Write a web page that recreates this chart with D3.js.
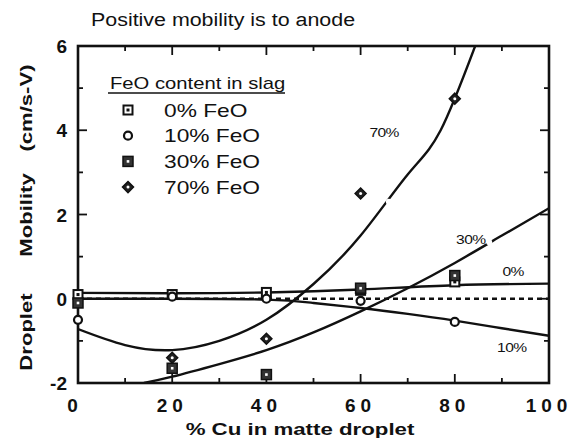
<!DOCTYPE html>
<html>
<head>
<meta charset="utf-8">
<script src="https://cdn.jsdelivr.net/npm/d3@7"></script>
<style>
  body { margin: 0; background: #fff; }
  text { font-family: "Liberation Sans", Arial, sans-serif; fill: #111; }
</style>
</head>
<body>
<script>
// measured points per FeO content
const x0 = [0, 20, 40, 60, 80];
const feo0 = [0.1, 0.1, 0.15, 0.2, 0.4];
const feo10 = [-0.5, 0.05, 0.0, -0.05, -0.55];
const x30 = [0, 20, 40, 60, 80];
const feo30 = [-0.1, -1.65, -1.8, 0.25, 0.55];
const x70 = [20, 40, 60, 80];
const feo70 = [-1.4, -0.95, 2.5, 4.75];

// fitted curves
const curve0 = [[0, 0.14], [20, 0.13], [40, 0.15], [60, 0.22], [80, 0.32], [100, 0.36]];
const curve10 = [[0, 0.0], [20, 0.0], [40, -0.02], [50, -0.1], [60, -0.22], [70, -0.36], [80, -0.52], [90, -0.7], [100, -0.88]];
const curve30 = [[14, -2], [20, -1.85], [30, -1.55], [40, -1.22], [50, -0.8], [60, -0.3], [70, 0.25], [80, 0.85], [90, 1.5], [100, 2.15]];
const curve70 = [[0, -0.72], [10, -1.1], [20, -1.22], [30, -1.0], [40, -0.5], [50, 0.35], [60, 1.5], [70, 2.95], [77, 4.0], [85, 6.2]];

const xTicks = [0, 20, 40, 60, 80, 100];
const yTicks = [-2, 0, 2, 4, 6];
const legendLabels = ["0% FeO", "10% FeO", "30% FeO", "70% FeO"];

const W = 571, H = 439;
const mL = 78, mR = 549, mT = 46, mB = 383;

const x = d3.scaleLinear().domain([0, 100]).range([mL, mR]);
const y = d3.scaleLinear().domain([-2, 6]).range([mB, mT]);

const svg = d3.create("svg")
  .attr("width", W)
  .attr("height", H)
  .attr("viewBox", [0, 0, W, H]);

svg.append("defs").append("clipPath").attr("id", "clip")
  .append("rect")
  .attr("x", mL).attr("y", mT)
  .attr("width", mR - mL).attr("height", mB - mT);

// the scanned figure has wide lettering, so text gets stretched sideways
function stext(g, str, tx, ty, size, sx, opts = {}) {
  const rot = opts.rotate ? ` rotate(${opts.rotate})` : "";
  return g.append("text")
    .attr("transform", `translate(${tx},${ty})${rot} scale(${sx},1)`)
    .attr("font-size", size)
    .attr("font-weight", opts.bold ? "bold" : null)
    .attr("text-anchor", opts.anchor || "start")
    .attr("letter-spacing", opts.ls || null)
    .text(str);
}

// title
stext(svg, "Positive mobility is to anode", 91, 26, 18, 1.19);

// ticks (inward), minor every 10 / 1, major every 20 / 2
const tickG = svg.append("g").attr("stroke", "#111").attr("stroke-width", 1.8);
d3.range(10, 100, 10).forEach(v => {
  const len = v % 20 === 0 ? 9 : 5;
  tickG.append("line").attr("x1", x(v)).attr("x2", x(v)).attr("y1", mB).attr("y2", mB - len);
  tickG.append("line").attr("x1", x(v)).attr("x2", x(v)).attr("y1", mT).attr("y2", mT + len);
});
d3.range(-1, 6, 1).forEach(v => {
  const len = v % 2 === 0 ? 9 : 5;
  tickG.append("line").attr("x1", mL).attr("x2", mL + len).attr("y1", y(v)).attr("y2", y(v));
  tickG.append("line").attr("x1", mR).attr("x2", mR - len).attr("y1", y(v)).attr("y2", y(v));
});

// frame
svg.append("rect")
  .attr("x", mL).attr("y", mT)
  .attr("width", mR - mL).attr("height", mB - mT)
  .attr("fill", "none").attr("stroke", "#111").attr("stroke-width", 2.6);

// tick labels
svg.append("g").selectAll("text").data(xTicks).join("text")
  .attr("x", d => x(d))
  .attr("y", 412)
  .attr("text-anchor", "middle")
  .attr("font-size", 19).attr("font-weight", "bold")
  .attr("letter-spacing", 5)
  .attr("dx", d => d === 0 ? -3 : 0)
  .text(d => d);

svg.append("g").selectAll("text").data(yTicks).join("text")
  .attr("x", 67)
  .attr("y", d => y(d) + 7)
  .attr("text-anchor", "end")
  .attr("font-size", 19).attr("font-weight", "bold")
  .text(d => d);

// axis titles
stext(svg, "% Cu in matte droplet", 300, 435, 17, 1.31, { bold: true, anchor: "middle" });

const yTitle = [["Droplet", 332], ["Mobility", 215], ["(cm/s-V)", 108]];
yTitle.forEach(d => stext(svg, d[0], 32, d[1], 17, 1.3, { bold: true, anchor: "middle", rotate: -90 }));

// zero dashed line
const plot = svg.append("g").attr("clip-path", "url(#clip)");
plot.append("line")
  .attr("x1", x(0)).attr("x2", x(100))
  .attr("y1", y(0)).attr("y2", y(0))
  .attr("stroke", "#111").attr("stroke-width", 2.4)
  .attr("stroke-dasharray", "5,4");

const line = d3.line().x(d => x(d[0])).y(d => y(d[1])).curve(d3.curveNatural);
[curve0, curve10, curve30, curve70].forEach(c => {
  plot.append("path")
    .attr("d", line(c))
    .attr("fill", "none")
    .attr("stroke", "#111").attr("stroke-width", 2.4);
});

// small breaks in the curves next to their labels
const gaps = [[87.3, 1.34], [66.0, 2.3]];
plot.selectAll(".gap").data(gaps).join("circle")
  .attr("cx", d => x(d[0])).attr("cy", d => y(d[1])).attr("r", 3)
  .attr("fill", "#fff");

// curve labels
const curveLabels = [["70%", 65, 3.85], ["30%", 83.4, 1.3], ["0%", 92.4, 0.54], ["10%", 92.1, -1.26]];
curveLabels.forEach(d => stext(svg, d[0], x(d[1]), y(d[2]), 13, 1.2, { anchor: "middle", ls: -0.5 }));

// marker shapes
function drawMarker(g, type, cx, cy) {
  const s = g.append("g").attr("transform", `translate(${cx},${cy})`);
  if (type === 0) {
    s.append("rect").attr("x", -4.5).attr("y", -4.5).attr("width", 9).attr("height", 9)
      .attr("fill", "#fff").attr("stroke", "#111").attr("stroke-width", 2);
    s.append("rect").attr("x", -1.5).attr("y", -1.5).attr("width", 3).attr("height", 3).attr("fill", "#111");
  } else if (type === 1) {
    s.append("circle").attr("r", 4).attr("fill", "#fff").attr("stroke", "#111").attr("stroke-width", 2.2);
  } else if (type === 2) {
    s.append("rect").attr("x", -5).attr("y", -5).attr("width", 10).attr("height", 10)
      .attr("fill", "#333").attr("stroke", "#111").attr("stroke-width", 1.5);
    s.append("rect").attr("x", -1.3).attr("y", -1.3).attr("width", 2.6).attr("height", 2.6).attr("fill", "#fff");
  } else {
    s.append("path").attr("d", "M0,-5.5L5.5,0L0,5.5L-5.5,0Z")
      .attr("fill", "#222").attr("stroke", "#111").attr("stroke-width", 1.5);
    s.append("circle").attr("r", 1.5).attr("fill", "#fff");
  }
}

const marks = svg.append("g");
x0.forEach((v, i) => drawMarker(marks, 0, x(v), y(feo0[i])));
x0.forEach((v, i) => drawMarker(marks, 1, x(v), y(feo10[i])));
x30.forEach((v, i) => drawMarker(marks, 2, x(v), y(feo30[i])));
x70.forEach((v, i) => drawMarker(marks, 3, x(v), y(feo70[i])));

// legend
stext(svg, "FeO content in slag", 110, 89, 17, 1.19);
svg.append("line")
  .attr("x1", 108).attr("x2", 285).attr("y1", 93).attr("y2", 93)
  .attr("stroke", "#111").attr("stroke-width", 1.6);

legendLabels.forEach((lab, i) => {
  const ly = 110 + i * 25.7;
  drawMarker(svg, i, 128, ly);
  stext(svg, lab, 164, ly + 6.5, 17.5, 1.3);
});

document.body.appendChild(svg.node());
</script>
</body>
</html>
